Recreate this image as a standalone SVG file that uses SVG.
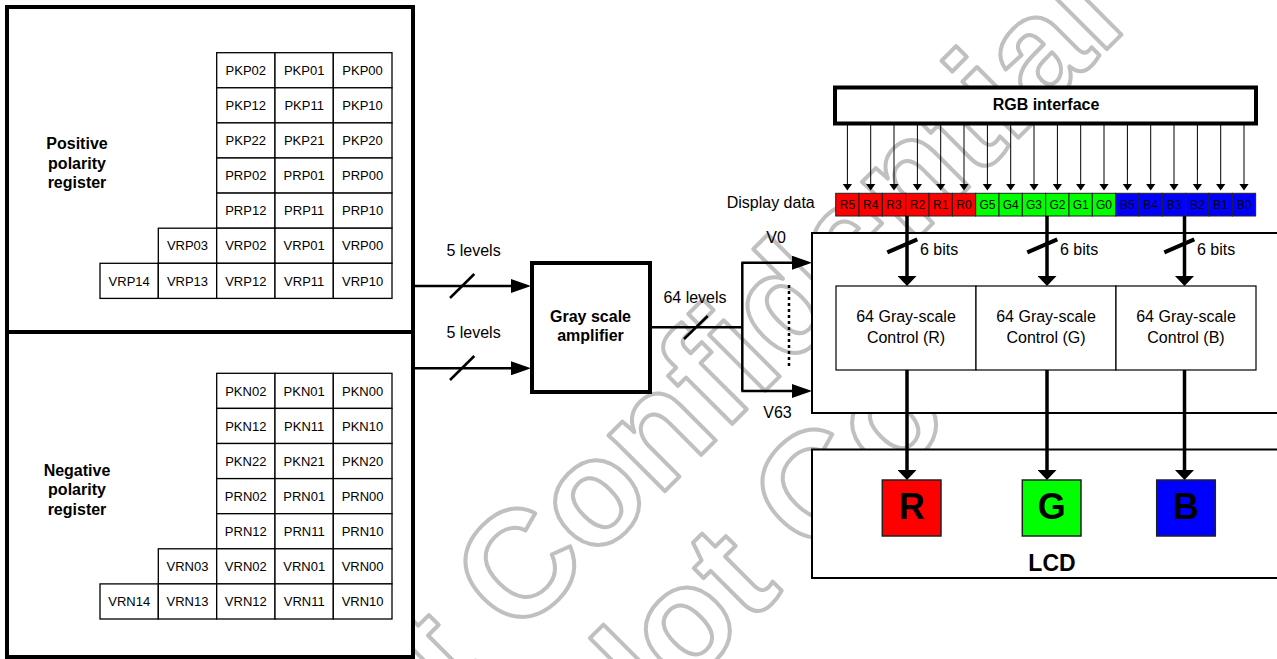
<svg xmlns="http://www.w3.org/2000/svg" width="1277" height="659" viewBox="0 0 1277 659">
<style>
.t{font-family:"Liberation Sans",Arial,sans-serif;fill:#000}
.c13{font-size:13px;text-anchor:middle}
.c12{font-size:12px;text-anchor:middle}
.b16{font-size:16px;font-weight:bold;text-anchor:middle}
.r16{font-size:16px}
.m16{font-size:16px;text-anchor:middle}
.cell{fill:#fff;stroke:#000;stroke-width:1.3}
.box4{fill:#fff;stroke:#000;stroke-width:4}
.box2{fill:#fff;stroke:#000;stroke-width:2}
.ctl{fill:#fff;stroke:#000;stroke-width:1.2}
.dc{stroke:#222;stroke-width:1}
.wm{font-family:"Liberation Sans",Arial,sans-serif;font-weight:bold;font-size:150px;fill:none;stroke:#c0c0c0;stroke-width:4;stroke-linejoin:round}
.ln{fill:none;stroke:#000;stroke-width:2.5}
.thin{fill:none;stroke:#000;stroke-width:1}
.thick{fill:none;stroke:#000;stroke-width:3.5}
</style>
<defs>
<marker id="ah" markerWidth="20" markerHeight="14" refX="15" refY="7" orient="auto" markerUnits="userSpaceOnUse"><path d="M0,0L20,7L0,14z" fill="#000"/></marker>
<marker id="at" markerWidth="7" markerHeight="10" refX="5" refY="5" orient="auto" markerUnits="userSpaceOnUse"><path d="M0,0L7,5L0,10z" fill="#000"/></marker>
<marker id="ak" markerWidth="10" markerHeight="19" refX="7" refY="9.5" orient="auto" markerUnits="userSpaceOnUse"><path d="M0,0L10,9.5L0,19z" fill="#000"/></marker>
</defs>
<rect width="1277" height="659" fill="#fff"/>
<g id="watermark">
<text class="wm" transform="translate(310,846) rotate(-45)">Not Confidential</text>
<text class="wm" transform="translate(607,767) rotate(-45)">Not Co</text>
</g>
<g id="positive-register">
<rect class="box4" x="7" y="7" width="406" height="325"/>
<text class="t b16" x="77" y="149">Positive</text>
<text class="t b16" x="77" y="168.5">polarity</text>
<text class="t b16" x="77" y="188">register</text>
<g>
<rect class="cell" x="216.7" y="52.7" width="58.3" height="35.1"/><rect class="cell" x="275" y="52.7" width="58.3" height="35.1"/><rect class="cell" x="333.3" y="52.7" width="58.7" height="35.1"/>
<rect class="cell" x="216.7" y="87.8" width="58.3" height="35.1"/><rect class="cell" x="275" y="87.8" width="58.3" height="35.1"/><rect class="cell" x="333.3" y="87.8" width="58.7" height="35.1"/>
<rect class="cell" x="216.7" y="122.9" width="58.3" height="35.1"/><rect class="cell" x="275" y="122.9" width="58.3" height="35.1"/><rect class="cell" x="333.3" y="122.9" width="58.7" height="35.1"/>
<rect class="cell" x="216.7" y="158" width="58.3" height="35.1"/><rect class="cell" x="275" y="158" width="58.3" height="35.1"/><rect class="cell" x="333.3" y="158" width="58.7" height="35.1"/>
<rect class="cell" x="216.7" y="193.1" width="58.3" height="35.1"/><rect class="cell" x="275" y="193.1" width="58.3" height="35.1"/><rect class="cell" x="333.3" y="193.1" width="58.7" height="35.1"/>
<rect class="cell" x="158.3" y="228.2" width="58.4" height="35.1"/><rect class="cell" x="216.7" y="228.2" width="58.3" height="35.1"/><rect class="cell" x="275" y="228.2" width="58.3" height="35.1"/><rect class="cell" x="333.3" y="228.2" width="58.7" height="35.1"/>
<rect class="cell" x="100" y="263.3" width="58.3" height="35.1"/><rect class="cell" x="158.3" y="263.3" width="58.4" height="35.1"/><rect class="cell" x="216.7" y="263.3" width="58.3" height="35.1"/><rect class="cell" x="275" y="263.3" width="58.3" height="35.1"/><rect class="cell" x="333.3" y="263.3" width="58.7" height="35.1"/>
</g>
<g class="t c13">
<text x="245.8" y="74.9">PKP02</text><text x="304.2" y="74.9">PKP01</text><text x="362.6" y="74.9">PKP00</text>
<text x="245.8" y="110">PKP12</text><text x="304.2" y="110">PKP11</text><text x="362.6" y="110">PKP10</text>
<text x="245.8" y="145.1">PKP22</text><text x="304.2" y="145.1">PKP21</text><text x="362.6" y="145.1">PKP20</text>
<text x="245.8" y="180.2">PRP02</text><text x="304.2" y="180.2">PRP01</text><text x="362.6" y="180.2">PRP00</text>
<text x="245.8" y="215.3">PRP12</text><text x="304.2" y="215.3">PRP11</text><text x="362.6" y="215.3">PRP10</text>
<text x="187.5" y="250.4">VRP03</text><text x="245.8" y="250.4">VRP02</text><text x="304.2" y="250.4">VRP01</text><text x="362.6" y="250.4">VRP00</text>
<text x="129.2" y="285.5">VRP14</text><text x="187.5" y="285.5">VRP13</text><text x="245.8" y="285.5">VRP12</text><text x="304.2" y="285.5">VRP11</text><text x="362.6" y="285.5">VRP10</text>
</g>
</g>
<g id="negative-register">
<rect class="box4" x="7" y="332" width="406" height="325"/>
<text class="t b16" x="77" y="475.7">Negative</text>
<text class="t b16" x="77" y="495">polarity</text>
<text class="t b16" x="77" y="514.5">register</text>
<g>
<rect class="cell" x="216.7" y="373.3" width="58.3" height="35.1"/><rect class="cell" x="275" y="373.3" width="58.3" height="35.1"/><rect class="cell" x="333.3" y="373.3" width="58.7" height="35.1"/>
<rect class="cell" x="216.7" y="408.4" width="58.3" height="35.1"/><rect class="cell" x="275" y="408.4" width="58.3" height="35.1"/><rect class="cell" x="333.3" y="408.4" width="58.7" height="35.1"/>
<rect class="cell" x="216.7" y="443.5" width="58.3" height="35.1"/><rect class="cell" x="275" y="443.5" width="58.3" height="35.1"/><rect class="cell" x="333.3" y="443.5" width="58.7" height="35.1"/>
<rect class="cell" x="216.7" y="478.6" width="58.3" height="35.1"/><rect class="cell" x="275" y="478.6" width="58.3" height="35.1"/><rect class="cell" x="333.3" y="478.6" width="58.7" height="35.1"/>
<rect class="cell" x="216.7" y="513.7" width="58.3" height="35.1"/><rect class="cell" x="275" y="513.7" width="58.3" height="35.1"/><rect class="cell" x="333.3" y="513.7" width="58.7" height="35.1"/>
<rect class="cell" x="158.3" y="548.8" width="58.4" height="35.1"/><rect class="cell" x="216.7" y="548.8" width="58.3" height="35.1"/><rect class="cell" x="275" y="548.8" width="58.3" height="35.1"/><rect class="cell" x="333.3" y="548.8" width="58.7" height="35.1"/>
<rect class="cell" x="100" y="583.9" width="58.3" height="35.1"/><rect class="cell" x="158.3" y="583.9" width="58.4" height="35.1"/><rect class="cell" x="216.7" y="583.9" width="58.3" height="35.1"/><rect class="cell" x="275" y="583.9" width="58.3" height="35.1"/><rect class="cell" x="333.3" y="583.9" width="58.7" height="35.1"/>
</g>
<g class="t c13">
<text x="245.8" y="395.5">PKN02</text><text x="304.2" y="395.5">PKN01</text><text x="362.6" y="395.5">PKN00</text>
<text x="245.8" y="430.6">PKN12</text><text x="304.2" y="430.6">PKN11</text><text x="362.6" y="430.6">PKN10</text>
<text x="245.8" y="465.7">PKN22</text><text x="304.2" y="465.7">PKN21</text><text x="362.6" y="465.7">PKN20</text>
<text x="245.8" y="500.8">PRN02</text><text x="304.2" y="500.8">PRN01</text><text x="362.6" y="500.8">PRN00</text>
<text x="245.8" y="535.9">PRN12</text><text x="304.2" y="535.9">PRN11</text><text x="362.6" y="535.9">PRN10</text>
<text x="187.5" y="571">VRN03</text><text x="245.8" y="571">VRN02</text><text x="304.2" y="571">VRN01</text><text x="362.6" y="571">VRN00</text>
<text x="129.2" y="606.1">VRN14</text><text x="187.5" y="606.1">VRN13</text><text x="245.8" y="606.1">VRN12</text><text x="304.2" y="606.1">VRN11</text><text x="362.6" y="606.1">VRN10</text>
</g>
</g>
<g id="amplifier">
<rect class="box4" x="532" y="263" width="118" height="129"/>
<text class="t b16" x="590.5" y="321.7">Gray scale</text>
<text class="t b16" x="590.5" y="340.7">amplifier</text>
</g>
<g id="rgb-interface">
<rect class="box4" x="835" y="87.5" width="421" height="36"/>
<text class="t b16" x="1046" y="110">RGB interface</text>
</g>
<g id="display-data">
<text class="t r16" x="726.7" y="208.3">Display data</text>
<g class="dc">
<rect x="835.7" y="193.3" width="23.33" height="22.7" fill="#f00"/><rect x="859.03" y="193.3" width="23.33" height="22.7" fill="#f00"/><rect x="882.36" y="193.3" width="23.33" height="22.7" fill="#f00"/><rect x="905.69" y="193.3" width="23.33" height="22.7" fill="#f00"/><rect x="929.02" y="193.3" width="23.33" height="22.7" fill="#f00"/><rect x="952.35" y="193.3" width="23.33" height="22.7" fill="#f00"/>
<rect x="975.68" y="193.3" width="23.33" height="22.7" fill="#0f0"/><rect x="999.01" y="193.3" width="23.33" height="22.7" fill="#0f0"/><rect x="1022.34" y="193.3" width="23.33" height="22.7" fill="#0f0"/><rect x="1045.67" y="193.3" width="23.33" height="22.7" fill="#0f0"/><rect x="1069" y="193.3" width="23.33" height="22.7" fill="#0f0"/><rect x="1092.33" y="193.3" width="23.33" height="22.7" fill="#0f0"/>
<rect x="1115.66" y="193.3" width="23.33" height="22.7" fill="#00f"/><rect x="1138.99" y="193.3" width="23.33" height="22.7" fill="#00f"/><rect x="1162.32" y="193.3" width="23.33" height="22.7" fill="#00f"/><rect x="1185.65" y="193.3" width="23.33" height="22.7" fill="#00f"/><rect x="1208.98" y="193.3" width="23.33" height="22.7" fill="#00f"/><rect x="1232.31" y="193.3" width="23.33" height="22.7" fill="#00f"/>
</g>
<g class="t c12">
<text x="847.4" y="208.5">R5</text><text x="870.7" y="208.5">R4</text><text x="894" y="208.5">R3</text><text x="917.4" y="208.5">R2</text><text x="940.7" y="208.5">R1</text><text x="964" y="208.5">R0</text>
<text x="987.4" y="208.5">G5</text><text x="1010.7" y="208.5">G4</text><text x="1034" y="208.5">G3</text><text x="1057.4" y="208.5">G2</text><text x="1080.7" y="208.5">G1</text><text x="1104" y="208.5">G0</text>
<text x="1127.4" y="208.5">B5</text><text x="1150.7" y="208.5">B4</text><text x="1174" y="208.5">B3</text><text x="1197.4" y="208.5">B2</text><text x="1220.7" y="208.5">B1</text><text x="1244" y="208.5">B0</text>
</g>
</g>
<g id="gray-control">
<rect class="box2" x="812" y="233" width="480" height="180"/>
<rect class="ctl" x="836" y="286" width="140" height="84"/>
<rect class="ctl" x="976" y="286" width="140" height="84"/>
<rect class="ctl" x="1116" y="286" width="140" height="84"/>
<text class="t m16" x="906" y="321.7">64 Gray-scale</text>
<text class="t m16" x="906" y="343.3">Control (R)</text>
<text class="t m16" x="1046" y="321.7">64 Gray-scale</text>
<text class="t m16" x="1046" y="343.3">Control (G)</text>
<text class="t m16" x="1186" y="321.7">64 Gray-scale</text>
<text class="t m16" x="1186" y="343.3">Control (B)</text>
</g>
<g id="lcd">
<rect class="box2" x="812" y="449.5" width="480" height="128.5" stroke-width="2.5"/>
<rect x="882.3" y="480" width="58.7" height="56" fill="#f00" stroke="#222" stroke-width="1.5"/>
<rect x="1022.3" y="480" width="58.7" height="56" fill="#0f0" stroke="#222" stroke-width="1.5"/>
<rect x="1156.7" y="480" width="58.6" height="56" fill="#00f" stroke="#222" stroke-width="1.5"/>
<text class="t" x="911.7" y="519.3" font-size="36" font-weight="bold" text-anchor="middle">R</text>
<text class="t" x="1051.7" y="519.3" font-size="36" font-weight="bold" text-anchor="middle">G</text>
<text class="t" x="1186" y="519.3" font-size="36" font-weight="bold" text-anchor="middle">B</text>
<text class="t" x="1052" y="570.7" font-size="23" font-weight="bold" text-anchor="middle">LCD</text>
</g>
<g id="connectors">
<line class="ln" x1="415" y1="286" x2="526" y2="286" marker-end="url(#ah)"/>
<line class="ln" x1="415" y1="368.3" x2="526" y2="368.3" marker-end="url(#ah)"/>
<line class="ln" x1="450" y1="298" x2="474.3" y2="274" stroke-width="2"/>
<line class="ln" x1="450" y1="380" x2="474.3" y2="356" stroke-width="2"/>
<text class="t m16" x="473.5" y="256">5 levels</text>
<text class="t m16" x="473.5" y="338.3">5 levels</text>
<polyline class="ln" stroke-width="2" points="650,327.3 742.3,327.3"/>
<line class="ln" x1="684" y1="339" x2="707.7" y2="316" stroke-width="2"/>
<text class="t m16" x="695" y="302.7">64 levels</text>
<line class="ln" stroke-width="2" x1="742.3" y1="262.7" x2="742.3" y2="391"/>
<line class="ln" stroke-width="2" x1="741.3" y1="262.7" x2="807" y2="262.7" marker-end="url(#ah)"/>
<line class="ln" stroke-width="2" x1="741.3" y1="391" x2="807" y2="391" marker-end="url(#ah)"/>
<line class="ln" stroke-width="2" x1="789" y1="285" x2="789" y2="368" stroke-dasharray="3,3"/>
<text class="t m16" x="776" y="243.3">V0</text>
<text class="t m16" x="777.5" y="418.3">V63</text>
<g class="thin">
<line x1="847.4" y1="124" x2="847.4" y2="188.5" marker-end="url(#at)"/><line x1="870.7" y1="124" x2="870.7" y2="188.5" marker-end="url(#at)"/><line x1="894" y1="124" x2="894" y2="188.5" marker-end="url(#at)"/><line x1="917.4" y1="124" x2="917.4" y2="188.5" marker-end="url(#at)"/><line x1="940.7" y1="124" x2="940.7" y2="188.5" marker-end="url(#at)"/><line x1="964" y1="124" x2="964" y2="188.5" marker-end="url(#at)"/>
<line x1="987.4" y1="124" x2="987.4" y2="188.5" marker-end="url(#at)"/><line x1="1010.7" y1="124" x2="1010.7" y2="188.5" marker-end="url(#at)"/><line x1="1034" y1="124" x2="1034" y2="188.5" marker-end="url(#at)"/><line x1="1057.4" y1="124" x2="1057.4" y2="188.5" marker-end="url(#at)"/><line x1="1080.7" y1="124" x2="1080.7" y2="188.5" marker-end="url(#at)"/><line x1="1104" y1="124" x2="1104" y2="188.5" marker-end="url(#at)"/>
<line x1="1127.4" y1="124" x2="1127.4" y2="188.5" marker-end="url(#at)"/><line x1="1150.7" y1="124" x2="1150.7" y2="188.5" marker-end="url(#at)"/><line x1="1174" y1="124" x2="1174" y2="188.5" marker-end="url(#at)"/><line x1="1197.4" y1="124" x2="1197.4" y2="188.5" marker-end="url(#at)"/><line x1="1220.7" y1="124" x2="1220.7" y2="188.5" marker-end="url(#at)"/><line x1="1244" y1="124" x2="1244" y2="188.5" marker-end="url(#at)"/>
</g>
<g class="thick">
<line x1="907" y1="216" x2="907" y2="283" marker-end="url(#ak)"/>
<line x1="1047" y1="216" x2="1047" y2="283" marker-end="url(#ak)"/>
<line x1="1184.5" y1="216" x2="1184.5" y2="283" marker-end="url(#ak)"/>
<line x1="887.3" y1="252.3" x2="917.3" y2="239.3" stroke-width="4"/>
<line x1="1027.3" y1="252.3" x2="1057.3" y2="239.3" stroke-width="4"/>
<line x1="1164.3" y1="252.3" x2="1194.3" y2="239.3" stroke-width="4"/>
<line x1="907" y1="370" x2="907" y2="477" marker-end="url(#ak)"/>
<line x1="1047" y1="370" x2="1047" y2="477" marker-end="url(#ak)"/>
<line x1="1184.5" y1="370" x2="1184.5" y2="477" marker-end="url(#ak)"/>
</g>
<text class="t r16" x="920" y="255">6 bits</text>
<text class="t r16" x="1060" y="255">6 bits</text>
<text class="t r16" x="1197" y="255">6 bits</text>
</g>
</svg>
